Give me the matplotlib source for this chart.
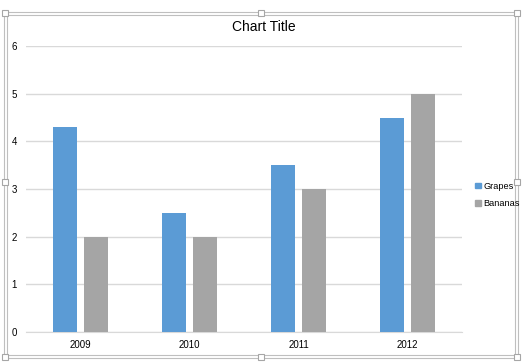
import matplotlib.pyplot as plt
import matplotlib.patches as mpatches
import numpy as np

years = ["2009", "2010", "2011", "2012"]
grapes = [4.3, 2.5, 3.5, 4.5]
bananas = [2, 2, 3, 5]

plt.rcParams['font.family'] = ['Liberation Sans', 'DejaVu Sans']

W, H = 532, 363
fig = plt.figure(figsize=(W / 100, H / 100), dpi=100)

def fx(px):
    return px / W

def fy(py):
    return 1 - py / H

ax = fig.add_axes([fx(26), fy(332), fx(462) - fx(26), fy(46) - fy(332)])

x = np.arange(len(years))
bw = 0.22
off = 0.143
ax.bar(x - off, grapes, bw, color="#5B9BD5", label="Grapes", zorder=3)
ax.bar(x + off, bananas, bw, color="#A5A5A5", label="Bananas", zorder=3)

ax.set_xlim(-0.5, 3.5)
ax.set_ylim(0, 6)
ax.set_yticks(range(0, 7))
ax.set_xticks(x)
ax.set_xticklabels(years)
ax.grid(axis="y", color="#D9D9D9", linewidth=1, zorder=0)
for s in ["top", "right", "left"]:
    ax.spines[s].set_visible(False)
ax.spines["bottom"].set_color("#D9D9D9")
ax.tick_params(axis="both", length=0, labelsize=7, colors="#000000")
ax.tick_params(axis="x", pad=6)
ax.tick_params(axis="y", pad=8.5)
for lbl in ax.get_yticklabels():
    lbl.set_horizontalalignment("center")

fig.text(fx(264), fy(27), "Chart Title", ha="center", va="center", fontsize=10, color="#000000")

handles = [mpatches.Patch(color="#5B9BD5"), mpatches.Patch(color="#A5A5A5")]
fig.legend(handles, ["Grapes", "Bananas"], loc="center left",
           bbox_to_anchor=(fx(467), fy(195)), frameon=False, fontsize=6.6,
           handlelength=0.6, handleheight=0.6, handletextpad=0.3, labelspacing=0.95)

# chart frame with selection handles
for l, t, r, b in [(4, 12, 518, 358), (7, 15, 515, 355)]:
    fig.add_artist(mpatches.Rectangle((fx(l), fy(b)), fx(r) - fx(l), fy(t) - fy(b),
                                      transform=fig.transFigure, fill=False,
                                      edgecolor="#BFBFBF", linewidth=0.8))
for hx, hy in [(5, 13), (261, 13), (517, 13), (5, 182), (517, 182),
               (5, 357), (261, 357), (517, 357)]:
    fig.add_artist(mpatches.Rectangle((fx(hx - 3), fy(hy + 3)), fx(6), 6 / H,
                                      transform=fig.transFigure, facecolor="white",
                                      edgecolor="#A6A6A6", linewidth=0.8, zorder=5))

fig.savefig("out.png", dpi=100)
